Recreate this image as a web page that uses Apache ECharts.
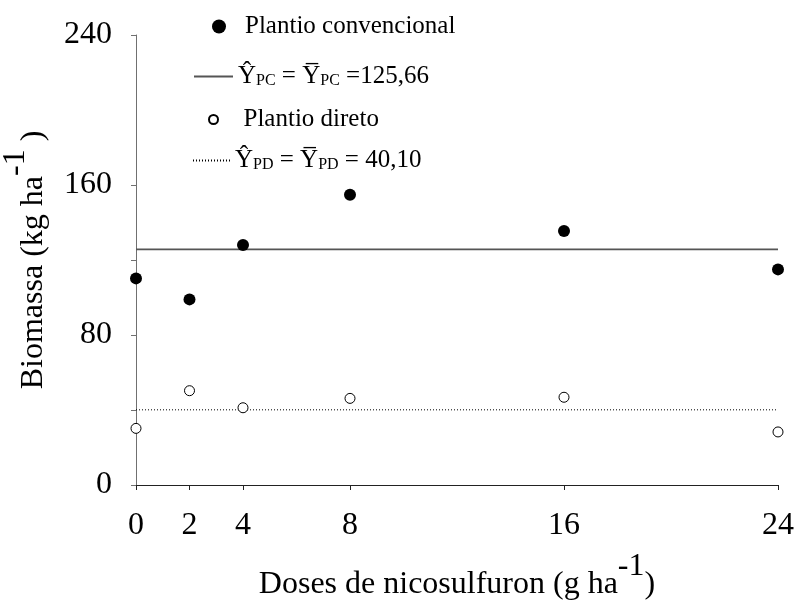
<!DOCTYPE html>
<html><head><meta charset="utf-8">
<script src="https://cdn.jsdelivr.net/npm/echarts@6/dist/echarts.min.js"></script>
<style>html,body{margin:0;padding:0;background:#fff}#c{width:797px;height:605px}</style>
</head><body><div id="c"></div>
<script>
const doses = [0, 2, 4, 8, 16, 24];
const pcValues = [110.2, 99.0, 128.0, 154.8, 135.5, 115.0];
const pdValues = [30.2, 50.3, 41.2, 46.2, 46.8, 28.3];
const pcMean = 125.66;
const pdMean = 40.10;
const xTickValues = [0, 2, 4, 8, 16, 24];
const yTickValues = [0, 40, 80, 120, 160, 240];
const yLabelValues = [0, 80, 160, 240];

const FONT = "'Liberation Serif', 'Times New Roman', 'DejaVu Serif', serif";
const fmt = v => v.toFixed(2).replace('.', ',');

const legendRich = {
  m: { fontSize: 25, fontFamily: FONT, color: '#000', verticalAlign: 'bottom' },
  s: { fontSize: 16, fontFamily: FONT, color: '#000', verticalAlign: 'bottom' }
};
const titleRich = {
  m: { fontSize: 32, fontFamily: FONT, color: '#000', verticalAlign: 'bottom' },
  s: { fontSize: 32, fontFamily: FONT, color: '#000', verticalAlign: 'top', padding: [0, 0, 18, 0] }
};

const chart = echarts.init(document.getElementById('c'), null, { renderer: 'canvas' });
chart.setOption({
  animation: false,
  backgroundColor: '#fff',
  grid: { left: 136, right: 19, top: 35, bottom: 120, outerBoundsMode: 'none' },
  xAxis: {
    type: 'value', min: 0, max: 24,
    name: '{m|Doses de nicosulfuron (g ha}{s|-1}{m|)}',
    nameLocation: 'middle', nameGap: 66,
    nameTextStyle: { rich: titleRich },
    axisLine: { show: true, lineStyle: { color: '#222', width: 1 } },
    axisTick: { show: true, length: 5, customValues: xTickValues, lineStyle: { color: '#222' } },
    axisLabel: { customValues: xTickValues, margin: 25, fontSize: 32, fontFamily: FONT, color: '#000' },
    splitLine: { show: false }
  },
  yAxis: {
    type: 'value', min: 0, max: 240,
    name: '{m|Biomassa (kg ha}{s|-1}{m| )}',
    nameLocation: 'middle', nameGap: 86,
    nameTextStyle: { rich: titleRich },
    axisLine: { show: true, lineStyle: { color: '#707070', width: 1 } },
    axisTick: { show: true, length: 5, customValues: yTickValues, lineStyle: { color: '#707070' } },
    axisLabel: { customValues: yLabelValues, margin: 24, fontSize: 32, fontFamily: FONT, color: '#000' },
    splitLine: { show: false }
  },
  legend: [
    { data: ['Plantio convencional'], left: 212, top: 14, itemWidth: 42, itemHeight: 14, padding: 0,
      selectedMode: false, textStyle: { rich: legendRich },
      formatter: () => '{m|Plantio convencional}' },
    { data: ['PC'], left: 193, top: 64, itemWidth: 39, itemHeight: 14, padding: 0,
      selectedMode: false, textStyle: { rich: legendRich }, itemStyle: { opacity: 0 },
      formatter: () => '{m|\u0176}{s|PC}{m| = Y\u0305}{s|PC}{m| =' + fmt(pcMean) + '}' },
    { data: ['Plantio direto'], left: 208, top: 107, itemWidth: 50, itemHeight: 9, padding: 0,
      selectedMode: false, textStyle: { rich: legendRich },
      formatter: () => '{m|Plantio direto}' },
    { data: ['PD'], left: 192, top: 148, itemWidth: 37, itemHeight: 14, padding: 0,
      selectedMode: false, textStyle: { rich: legendRich }, itemStyle: { opacity: 0 },
      formatter: () => '{m|\u0176}{s|PD}{m| = Y\u0305}{s|PD}{m| = ' + fmt(pdMean) + '}' }
  ],
  series: [
    { name: 'PC', type: 'line', data: [[doses[0], pcMean], [doses[doses.length - 1], pcMean]],
      symbol: 'none', showSymbol: false, silent: true, z: 2,
      itemStyle: { color: '#555' },
      lineStyle: { color: '#555', width: 1.8, type: 'solid' } },
    { name: 'PD', type: 'line', data: [[doses[0], pdMean], [doses[doses.length - 1], pdMean]],
      symbol: 'none', showSymbol: false, silent: true, z: 2,
      itemStyle: { color: '#000' },
      lineStyle: { color: '#000', width: 1, type: [1, 2] } },
    { name: 'Plantio convencional', type: 'scatter', symbol: 'circle', symbolSize: 12, z: 3,
      data: doses.map((d, i) => [d, pcValues[i]]),
      itemStyle: { color: '#000', opacity: 1 } },
    { name: 'Plantio direto', type: 'scatter', symbol: 'circle', symbolSize: 10, z: 3,
      data: doses.map((d, i) => [d, pdValues[i]]),
      itemStyle: { color: '#fff', borderColor: '#000', borderWidth: 1, opacity: 1 } }
  ]
});
</script></body></html>
